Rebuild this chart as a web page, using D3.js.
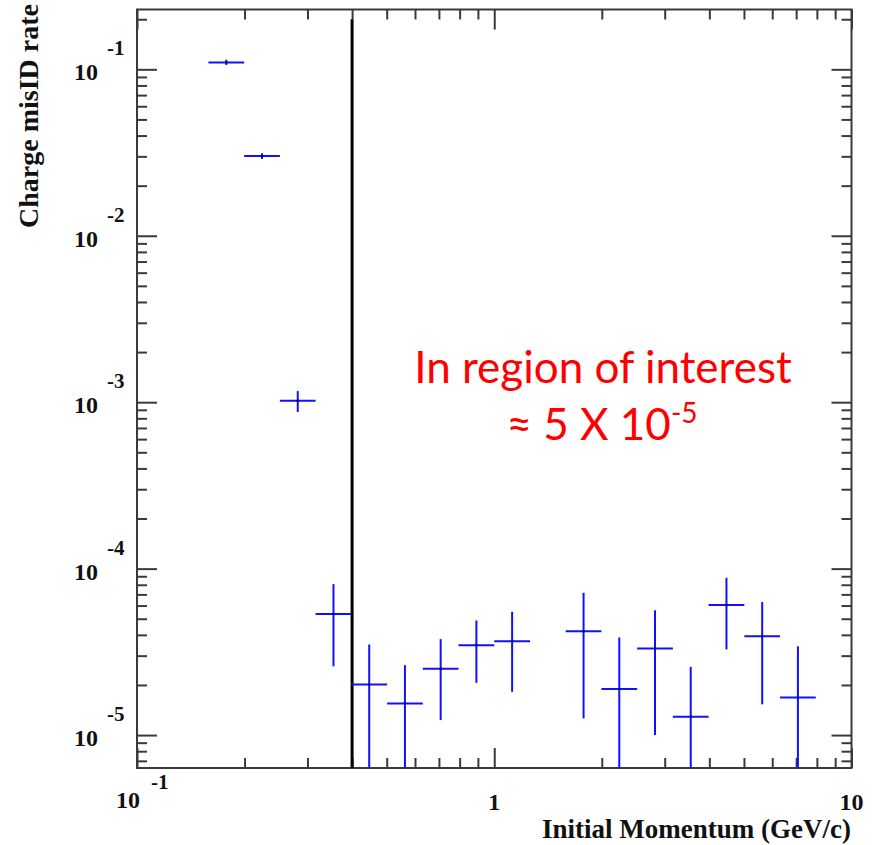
<!DOCTYPE html>
<html>
<head>
<meta charset="utf-8">
<script src="https://cdn.jsdelivr.net/npm/d3@7/dist/d3.min.js"></script>
<style>
body{margin:0;background:#fff;}
svg{display:block;}
</style>
</head>
<body>
<svg id="chart" width="879" height="845"></svg>
<script>
// log bins, 0.1 decade wide (GeV/c)
var binLow  = [0.1585, 0.1995, 0.2512, 0.3162, 0.3981, 0.5012, 0.6310, 0.7943, 1.000, 1.585, 1.995, 2.512, 3.162, 3.981, 5.012, 6.310];
var binHigh = [0.1995, 0.2512, 0.3162, 0.3981, 0.5012, 0.6310, 0.7943, 1.000, 1.259, 1.995, 2.512, 3.162, 3.981, 5.012, 6.310, 7.943];
var misIdRate = [0.110, 0.0301, 0.00102, 5.33e-5, 2.01e-5, 1.55e-5, 2.50e-5, 3.47e-5, 3.66e-5, 4.21e-5, 1.89e-5, 3.31e-5, 1.29e-5, 6.04e-5, 3.92e-5, 1.68e-5];
var misIdErr  = [0.004, 0.0012, 0.000147, 2.74e-5, 1.49e-5, 1.08e-5, 1.27e-5, 1.41e-5, 1.84e-5, 2.95e-5, 1.97e-5, 2.31e-5, 1.28e-5, 2.77e-5, 2.39e-5, 1.74e-5];

var xDomain = [0.1, 10];
var yDomain = [6.34e-6, 0.2288];
var xMajor = [0.1, 1, 10];
var xMajorLabels = [['10', '-1'], ['1', ''], ['10', '']];
var yMajor = [1e-1, 1e-2, 1e-3, 1e-4, 1e-5];
var yMajorLabels = [['10', '-1'], ['10', '-2'], ['10', '-3'], ['10', '-4'], ['10', '-5']];

var cutMomentum = 0.4;
var cutTop = 0.2;

var xTitle = 'Initial Momentum (GeV/c)';
var yTitle = 'Charge misID rate';
var noteLine1 = 'In region of interest';
var noteLine2 = ['\u2248 5 X 10', '-5'];

var svg, x, y;
// note: "top" is taken by window.top, so plot box edges get their own names
var pLeft = 137, pTop = 9.5, pRight = 851.5, pBottom = 768;
var frameColor = '#3a3a3a';
var serif = '"Liberation Serif", "DejaVu Serif", serif';

function minorTicks(domain){
	var out = [];
	for(var e = -7; e <= 2; e++){
		for(var m = 2; m <= 9; m++){
			var v = m * Math.pow(10, e);
			if(v > domain[0] && v < domain[1]) out.push(v);
		}
	}
	return out;
}

function drawAxes(){
	var ax = svg.append('g').attr('class', 'axes');
	var defs = [
		[d3.axisBottom, x, xMajor, xDomain, 'translate(0,' + pBottom + ')'],
		[d3.axisTop, x, xMajor, xDomain, 'translate(0,' + pTop + ')'],
		[d3.axisLeft, y, yMajor, yDomain, 'translate(' + pLeft + ',0)'],
		[d3.axisRight, y, yMajor, yDomain, 'translate(' + pRight + ',0)']
	];
	defs.forEach(function(d){
		var g1 = ax.append('g').attr('transform', d[4])
			.call(d[0](d[1]).tickValues(d[2]).tickSize(-20).tickFormat(''));
		var g2 = ax.append('g').attr('transform', d[4])
			.call(d[0](d[1]).tickValues(minorTicks(d[3])).tickSize(-10).tickFormat(''));
		[g1, g2].forEach(function(g){
			g.select('.domain').remove();
			g.selectAll('.tick line').attr('stroke', frameColor).attr('stroke-width', 2);
		});
	});

	svg.append('rect')
		.attr('x', pLeft).attr('y', pTop)
		.attr('width', pRight - pLeft).attr('height', pBottom - pTop)
		.attr('fill', 'none').attr('stroke', frameColor).attr('stroke-width', 2);
}

function drawLabels(){
	var lab = svg.append('g').attr('font-family', serif).attr('font-weight', 'bold').attr('fill', '#111');

	yMajor.forEach(function(v, i){
		lab.append('text').attr('x', 98).attr('y', y(v) + 11)
			.attr('text-anchor', 'end').attr('font-size', 24).text(yMajorLabels[i][0]);
		lab.append('text').attr('x', 107).attr('y', y(v) - 14)
			.attr('font-size', 21).text(yMajorLabels[i][1]);
	});

	xMajor.forEach(function(v, i){
		var l = xMajorLabels[i];
		if(l[1]){
			lab.append('text').attr('x', x(v) - 9).attr('y', 808)
				.attr('text-anchor', 'middle').attr('font-size', 24).text(l[0]);
			lab.append('text').attr('x', x(v) + 14).attr('y', 789)
				.attr('font-size', 21).text(l[1]);
		} else {
			lab.append('text').attr('x', x(v)).attr('y', 810)
				.attr('text-anchor', 'middle').attr('font-size', 24).text(l[0]);
		}
	});

	lab.append('text').attr('x', 851).attr('y', 838)
		.attr('text-anchor', 'end').attr('font-size', 27).text(xTitle);

	lab.append('text').attr('transform', 'translate(38,4) rotate(-90)')
		.attr('text-anchor', 'end').attr('font-size', 28).text(yTitle);
}

function drawData(){
	svg.append('clipPath').attr('id', 'plotclip')
		.append('rect').attr('x', pLeft).attr('y', pTop)
		.attr('width', pRight - pLeft).attr('height', pBottom - pTop);

	var pts = binLow.map(function(lo, i){
		return {lo: lo, hi: binHigh[i], v: misIdRate[i], e: misIdErr[i]};
	});

	var g = svg.append('g').attr('clip-path', 'url(#plotclip)');

	g.append('line')
		.attr('x1', x(cutMomentum)).attr('x2', x(cutMomentum))
		.attr('y1', y(cutTop)).attr('y2', y(yDomain[0]) + 2)
		.attr('stroke', '#000').attr('stroke-width', 3);

	var bars = g.selectAll('.pt').data(pts).enter().append('g').attr('class', 'pt');
	bars.append('line')
		.attr('x1', function(d){ return x(d.lo); })
		.attr('x2', function(d){ return x(d.hi); })
		.attr('y1', function(d){ return y(d.v); })
		.attr('y2', function(d){ return y(d.v); })
		.attr('stroke', '#1010ff').attr('stroke-width', 2);
	bars.append('line')
		.attr('x1', function(d){ return x(Math.sqrt(d.lo * d.hi)); })
		.attr('x2', function(d){ return x(Math.sqrt(d.lo * d.hi)); })
		.attr('y1', function(d){ return y(d.v + d.e); })
		.attr('y2', function(d){
			var low = d.v - d.e;
			return low > yDomain[0] ? y(low) : pBottom + 5;
		})
		.attr('stroke', '#1010ff').attr('stroke-width', 2);
	bars.append('rect')
		.attr('x', function(d){ return x(Math.sqrt(d.lo * d.hi)) - 1; })
		.attr('y', function(d){ return y(d.v) - 1; })
		.attr('width', 2).attr('height', 2).attr('fill', '#000033');
}

function drawNote(){
	var n = svg.append('g').attr('font-family', 'Lato, "Open Sans", sans-serif').attr('fill', '#ff0000');
	n.append('text').attr('x', 603).attr('y', 383).attr('text-anchor', 'middle')
		.attr('font-size', 44).text(noteLine1);
	var t = n.append('text').attr('x', 602).attr('y', 440).attr('text-anchor', 'middle')
		.attr('font-size', 44);
	t.append('tspan').text(noteLine2[0]);
	t.append('tspan').attr('font-size', 28).attr('dy', -17).text(noteLine2[1]);
}

function setup(){
	svg = d3.select('#chart');
	x = d3.scaleLog().domain(xDomain).range([pLeft, pRight]);
	y = d3.scaleLog().domain(yDomain).range([pBottom, pTop]);
	drawAxes();
	drawData();
	drawLabels();
	drawNote();
}

setup();
</script>
</body>
</html>
